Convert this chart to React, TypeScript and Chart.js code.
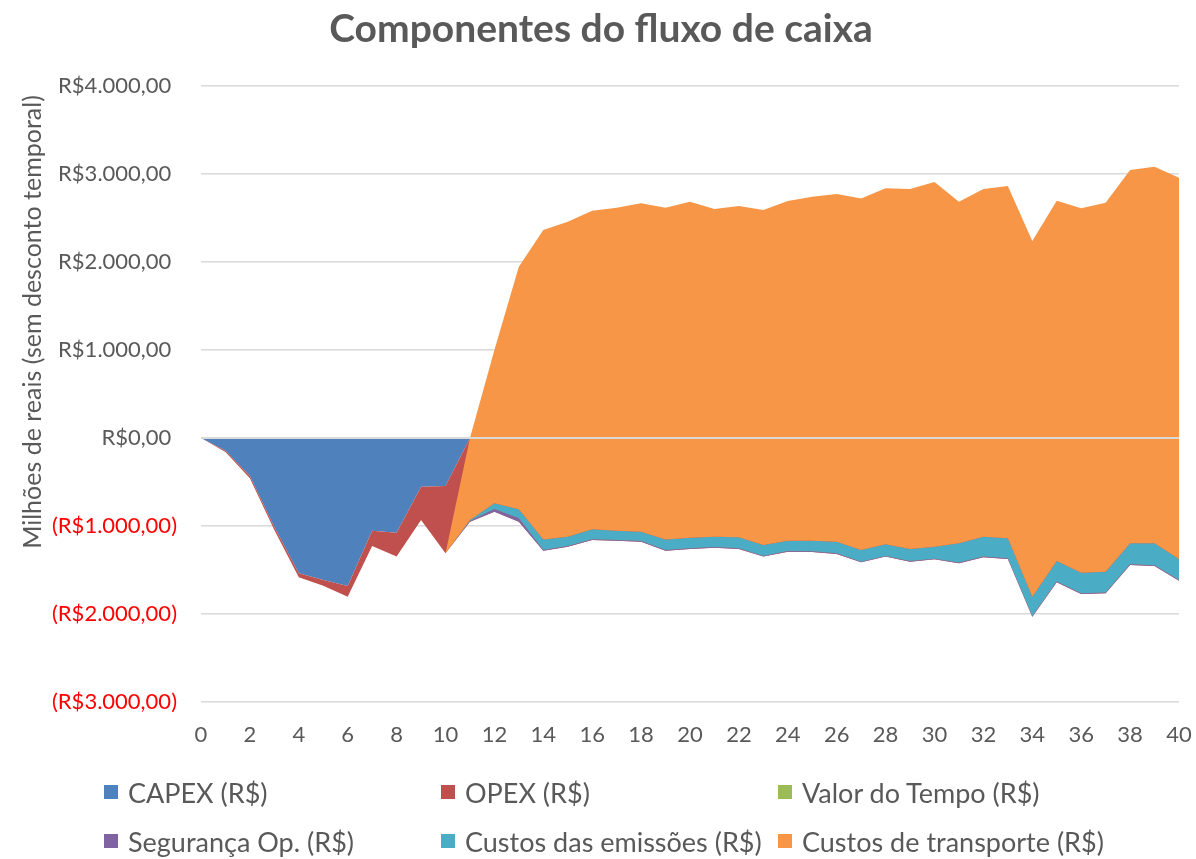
import React, { useEffect, useRef } from 'react';
import { Chart, registerables } from 'chart.js';

Chart.register(...registerables);

// ---------- data ----------
const years = ['0','1','2','3','4','5','6','7','8','9','10','11','12','13','14','15','16','17','18','19','20','21','22','23','24','25','26','27','28','29','30','31','32','33','34','35','36','37','38','39','40'];

const capex = [0, -144, -432, -1011, -1538, -1614, -1682, -1053, -1076, -553, -545,
  0, 0, 0, 0, 0, 0, 0, 0, 0, 0, 0, 0, 0, 0, 0, 0, 0, 0, 0, 0, 0, 0, 0, 0, 0, 0, 0, 0, 0, 0];

const opex = [0, -15, -26, -35, -45, -64, -121, -174, -272, -379, -766,
  -951, -837, -951, -1280, -1235, -1159, -1167, -1178, -1280, -1261,
  -1246, -1261, -1348, -1292, -1296, -1318, -1413, -1348, -1405, -1379,
  -1424, -1356, -1375, -2030, -1640, -1773, -1765, -1443, -1455, -1621];

const valorTempo = [0, 0, 0, 0, 0, 0, 0, 0, 0, 0, 0,
  0, 0, 0, 0, 0, 0, 0, 0, 0, 0, 0, 0, 0, 0, 0, 0, 0, 0, 0, 0, 0, 0, 0, 0, 0, 0, 0, 0, 0, 0];

const seguranca = [0, 0, 0, 0, 0, 0, 0, 0, 0, 0, 0,
  8, 30, 38, 8, 8, 8, 8, 8, 8, 8,
  8, 8, 8, 8, 8, 8, 8, 8, 8, 8,
  8, 8, 8, 8, 8, 8, 8, 8, 8, 8];

const emissoes = [0, 0, 0, 0, 0, 0, 0, 0, 0, 0, 0,
  11, 65, 102, 120, 106, 113, 106, 106, 120, 120,
  117, 124, 124, 117, 121, 132, 132, 132, 136, 136,
  219, 227, 227, 219, 234, 235, 238, 238, 250, 238];

const transporte = [0, 0, 0, 0, 0, 0, 0, 0, 0, 0, 0,
  932, 1742, 2758, 3516, 3579, 3621, 3670, 3731, 3769, 3819,
  3723, 3765, 3807, 3860, 3909, 3951, 3996, 4045, 4091, 4144,
  3883, 3951, 4004, 4042, 4095, 4140, 4193, 4242, 4280, 4333];

const seriesLabels = ['CAPEX (R$)', 'OPEX (R$)', 'Valor do Tempo (R$)', 'Segurança Op. (R$)', 'Custos das emissões (R$)', 'Custos de transporte (R$)'];
const seriesValues = [capex, opex, valorTempo, seguranca, emissoes, transporte];
const seriesColors = ['#4f81bd', '#c0504d', '#9bbb59', '#8064a2', '#4bacc6', '#f79646'];

const yTicks = [-3000, -2000, -1000, 0, 1000, 2000, 3000, 4000];
const chartTitle = 'Componentes do fluxo de caixa';
const yAxisTitle = 'Milhões de reais (sem desconto temporal)';

const FONT = 'Lato, "Open Sans", sans-serif';
const TEXT = '#595959';

function fmtBRL(v: number): string {
  const abs = Math.abs(Math.round(v));
  const int = String(abs).replace(/\B(?=(\d{3})+(?!\d))/g, '.');
  const s = `R$${int},00`;
  return v < 0 ? `(${s})` : `${s} `;
}

const textPlugin = {
  id: 'customTexts',
  afterDraw(chart: any) {
    const ctx = chart.ctx;
    ctx.save();
    ctx.fillStyle = TEXT;
    ctx.textAlign = 'center';
    ctx.textBaseline = 'middle';
    ctx.font = `bold 39px ${FONT}`;
    ctx.fillText(chartTitle, 601, 29);
    ctx.translate(33, 322);
    ctx.rotate(-Math.PI / 2);
    ctx.font = `25px ${FONT}`;
    ctx.fillText(yAxisTitle, 0, 0);
    ctx.restore();
  },
};

const zeroLinePlugin = {
  id: 'zeroLine',
  afterDatasetsDraw(chart: any) {
    const { ctx, chartArea, scales } = chart;
    const y = scales.y.getPixelForValue(0);
    ctx.save();
    ctx.strokeStyle = '#d9d9d9';
    ctx.lineWidth = 2;
    ctx.beginPath();
    ctx.moveTo(chartArea.left, y);
    ctx.lineTo(chartArea.right, y);
    ctx.stroke();
    ctx.restore();
  },
};

function ChartCanvas() {
  const ref = useRef<HTMLCanvasElement | null>(null);
  useEffect(() => {
    if (!ref.current) return;
    let run = years.map(() => 0);
    const datasets = seriesValues.map((vals, k) => {
      run = run.map((r, i) => r + vals[i]);
      return {
        label: seriesLabels[k],
        data: [...run],
        fill: k === 0 ? 'origin' : '-1',
        backgroundColor: seriesColors[k],
        borderColor: 'rgba(0,0,0,0)',
        borderWidth: 0,
        pointRadius: 0,
        pointHoverRadius: 0,
        tension: 0,
        order: -k,
      };
    });
    const chart = new Chart(ref.current, {
      type: 'line',
      data: { labels: years, datasets: datasets as any },
      plugins: [textPlugin, zeroLinePlugin],
      options: {
        animation: false,
        responsive: false,
        devicePixelRatio: 1,
        events: [],
        layout: { padding: { left: 0, right: 17, top: 86, bottom: 117 } },
        plugins: {
          legend: { display: false },
          tooltip: { enabled: false },
          title: { display: false },
        },
        scales: {
          x: {
            type: 'category',
            offset: false,
            grid: { display: false, drawTicks: false },
            border: { display: false },
            afterFit: (s: any) => { s.height = 40; s.paddingLeft = 0; s.paddingRight = 0; },
            ticks: {
              autoSkip: false,
              maxRotation: 0,
              padding: 20,
              color: TEXT,
              font: { family: FONT, size: 22 },
              callback: function (this: any, val: any, idx: number) {
                return idx % 2 === 0 ? this.getLabelForValue(val) : '';
              },
            },
          },
          y: {
            min: -3000,
            max: 4000,
            grid: { color: '#d9d9d9', lineWidth: 1.6, drawTicks: false },
            border: { display: false },
            afterFit: (s: any) => { s.width = 201; s.paddingTop = 0; s.paddingBottom = 0; },
            afterBuildTicks: (s: any) => { s.ticks = yTicks.map((v) => ({ value: v })); },
            ticks: {
              padding: 24,
              color: (c: any) => (c.tick && c.tick.value < 0 ? '#ff0000' : TEXT),
              font: { family: FONT, size: 22 },
              callback: (v: any) => fmtBRL(Number(v)),
            },
          },
        },
      },
    });
    return () => chart.destroy();
  }, []);
  return <canvas ref={ref} width={1196} height={859} style={{ position: 'absolute', left: 0, top: 0 }} />;
}

export default function App() {
  const legendPos = [
    [0, 0], [1, 0], [2, 0],
    [0, 1], [1, 1], [2, 1],
  ];
  return (
    <div style={{ position: 'fixed', left: 0, top: 0, width: 1196, height: 859, background: '#fff', overflow: 'hidden' }}>
      <ChartCanvas />
      {seriesLabels.map((lab, k) => (
        <div
          key={lab}
          style={{
            position: 'absolute',
            left: 104 + legendPos[k][0] * 337,
            top: 775 + legendPos[k][1] * 49,
            height: 34,
            display: 'flex',
            alignItems: 'center',
            fontFamily: FONT,
            fontSize: 27,
            color: TEXT,
            whiteSpace: 'nowrap',
          }}
        >
          <span style={{ display: 'inline-block', width: 14, height: 14, background: seriesColors[k], marginRight: 10 }} />
          <span>{lab}</span>
        </div>
      ))}
    </div>
  );
}
